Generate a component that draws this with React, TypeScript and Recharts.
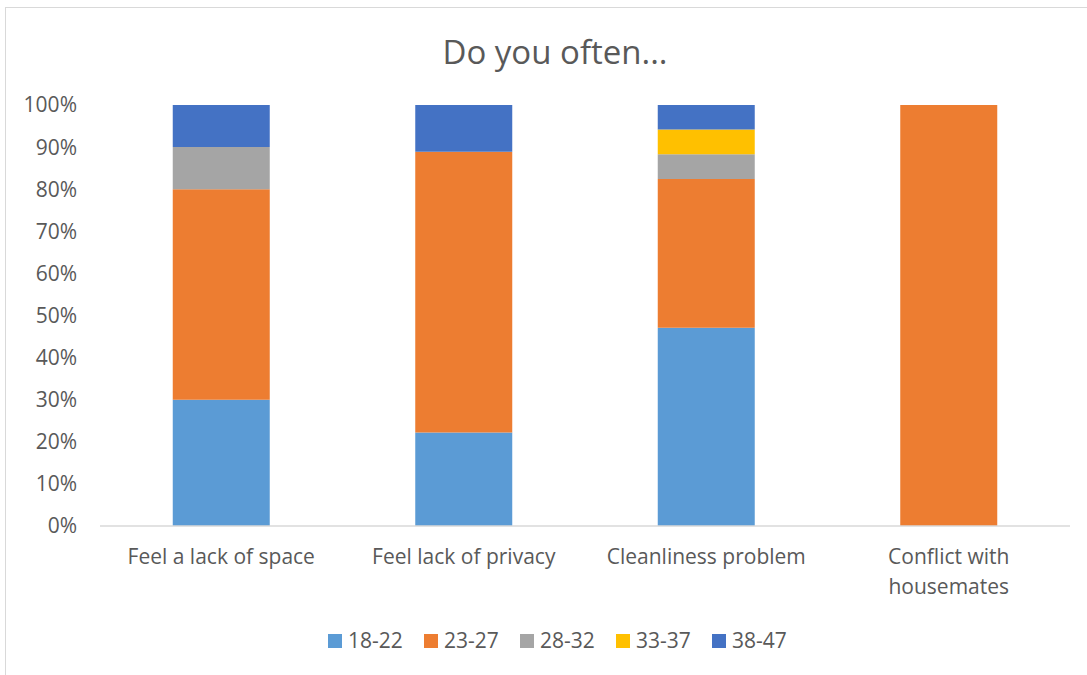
import { BarChart, Bar, XAxis, YAxis } from 'recharts'

const CATEGORIES = ['Feel a lack of space', 'Feel lack of privacy', 'Cleanliness problem', 'Conflict with housemates']
const AGE_GROUPS = ['18-22', '23-27', '28-32', '33-37', '38-47']
const COLORS = ['#5B9BD5', '#ED7D31', '#A5A5A5', '#FFC000', '#4472C4']
// share of each age group per question, in %
const AGE_18_22 = [30, 22.2, 47.1, 0]
const AGE_23_27 = [50, 66.7, 35.3, 100]
const AGE_28_32 = [10, 0, 5.9, 0]
const AGE_33_37 = [0, 0, 5.9, 0]
const AGE_38_47 = [10, 11.1, 5.8, 0]
const SERIES = [AGE_18_22, AGE_23_27, AGE_28_32, AGE_33_37, AGE_38_47]
const Y_TICKS = [0, 10, 20, 30, 40, 50, 60, 70, 80, 90, 100]

const FONT = '"Open Sans", sans-serif'
const TEXT = '#595959'

const data = CATEGORIES.map((name, i) => {
  const row: Record<string, string | number> = { name }
  AGE_GROUPS.forEach((g, s) => { row[g] = SERIES[s][i] })
  return row
})

// naive word wrap, ~20 chars a line
function wrap(label: string, max = 20) {
  const lines: string[] = []
  let cur = ''
  label.split(' ').forEach((w) => {
    const next = cur ? cur + ' ' + w : w
    if (next.length > max && cur) {
      lines.push(cur)
      cur = w
    } else cur = next
  })
  if (cur) lines.push(cur)
  return lines
}

function CategoryTick(props: any) {
  const { x, y, payload } = props
  return (
    <text x={x} y={y + 30} textAnchor="middle" fill={TEXT} fontSize={21} fontFamily={FONT}>
      {wrap(payload.value).map((line, i) => (
        <tspan key={i} x={x} dy={i === 0 ? 0 : 30}>{line}</tspan>
      ))}
    </text>
  )
}

export default function App() {
  return (
    <div style={{ position: 'absolute', left: 5, top: 7, width: 1098, height: 698, border: '1px solid #d9d9d9', background: '#fff', overflow: 'hidden' }}>
      <div style={{ position: 'absolute', top: 21, left: 0, width: 1098, textAlign: 'center', fontFamily: FONT, fontSize: 33, color: TEXT, lineHeight: '45px' }}>
        Do you often...
      </div>
      <BarChart width={1098} height={698} data={data} barCategoryGap="30%"
        margin={{ top: 97, right: 34, left: 0, bottom: 100 }}>
        <XAxis dataKey="name" axisLine={{ stroke: '#d9d9d9', strokeWidth: 1.5 }} tickLine={false} tick={<CategoryTick />} interval={0} height={80} />
        <YAxis width={94} domain={[0, 100]} ticks={Y_TICKS} tickFormatter={(v) => `${v}%`} axisLine={false} tickLine={false}
          tickSize={0} tickMargin={23} tick={{ fill: TEXT, fontSize: 21, fontFamily: FONT }} />
        {AGE_GROUPS.map((g, i) => (
          <Bar key={g} dataKey={g} stackId="a" fill={COLORS[i]} isAnimationActive={false} />
        ))}
      </BarChart>
      <div style={{ position: 'absolute', left: 322, top: 618, display: 'flex', fontFamily: FONT, fontSize: 21, color: TEXT, lineHeight: '29px' }}>
        {AGE_GROUPS.map((g, i) => (
          <div key={g} style={{ width: 96, display: 'flex', alignItems: 'center' }}>
            <span style={{ width: 14, height: 14, background: COLORS[i], marginRight: 6, display: 'inline-block' }} />
            <span>{g}</span>
          </div>
        ))}
      </div>
    </div>
  )
}
